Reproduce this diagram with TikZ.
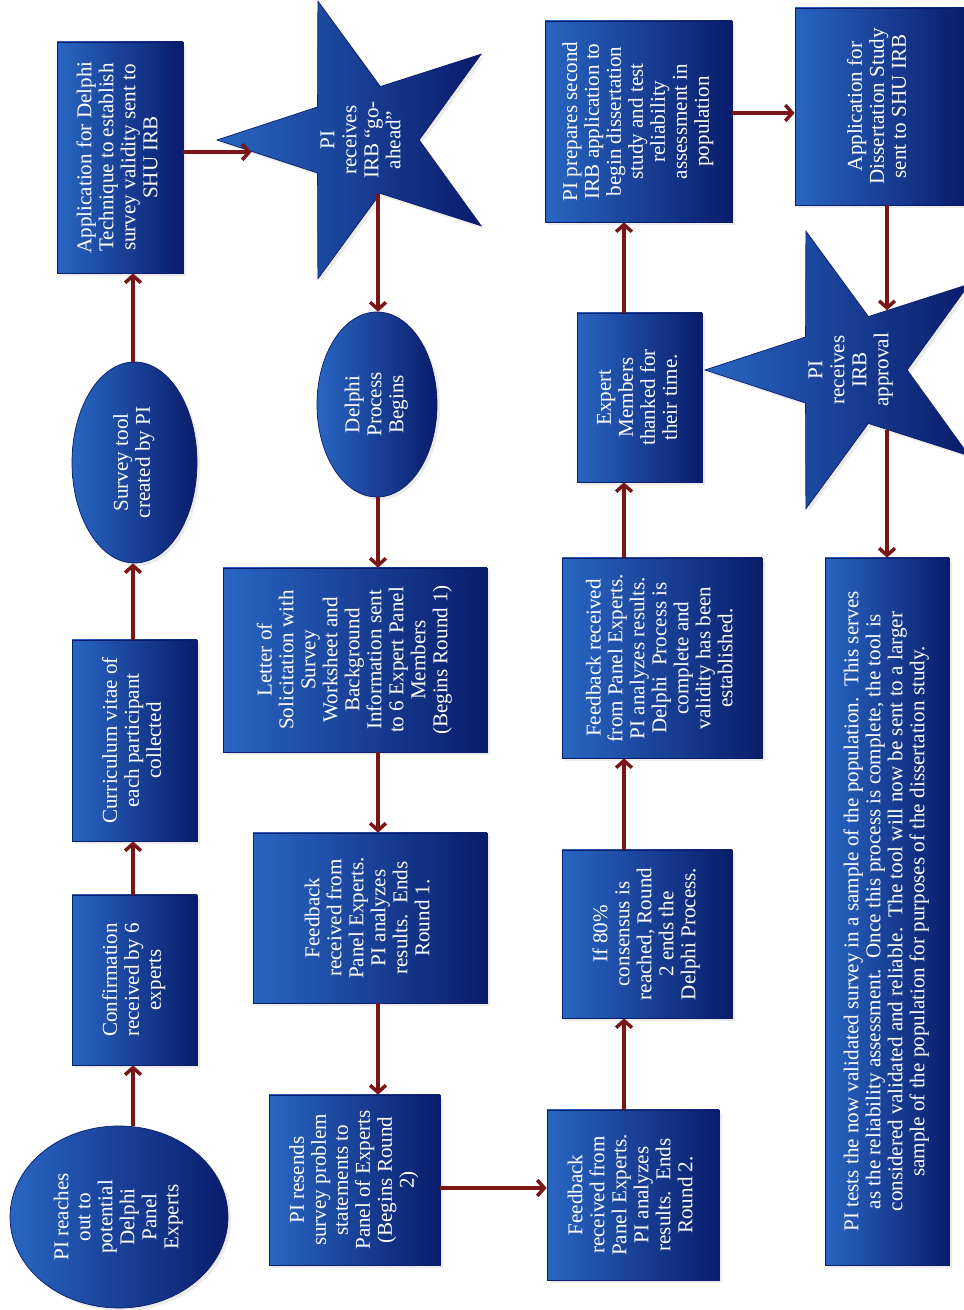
\documentclass[tikz,border=0pt]{standalone}
\usepackage{fontspec}
\setmainfont{Liberation Serif}
\usepackage{tikz}
\usetikzlibrary{arrows.meta, positioning, shapes.geometric, shadows}
\definecolor{boxlight}{RGB}{40,102,194}
\definecolor{boxdark}{RGB}{10,28,108}
\definecolor{arrowred}{RGB}{122,22,22}
\newcommand{\vtext}[1]{\rotatebox{90}{\begin{tabular}{@{}c@{}}#1\end{tabular}}}
% star text takes no room, so the star keeps its own size
\newcommand{\startext}[1]{\smash{\makebox[0pt]{\raisebox{-0.5\height}{\vtext{#1}}}}}
\tikzset{%
	flowbox/.style={
		rectangle,
		draw=boxdark,
		left color=boxlight,
		right color=boxdark,
		text=white,
		inner sep=0pt,
		font=\fontsize{12}{12.5}\selectfont,
		drop shadow={opacity=0.15, shadow xshift=0.06cm, shadow yshift=-0.06cm}
	},
	flowoval/.style={flowbox, ellipse},
	flowstar/.style={
		flowbox, star, star points=5, star point ratio=2.6,
		shape border rotate=90, minimum size=5.84cm
	},
	flow/.style={draw=arrowred, line width=2pt, -{Straight Barb[length=4pt,width=9pt]}},
}
\begin{document}
\begin{tikzpicture}
			\useasboundingbox (0,0) rectangle (19.28,26.2);
			\fill[white] (0,0) rectangle (19.28,26.2);
			
			% arrow lanes
			\coordinate (lane1) at (2.66,0);
			\coordinate (lane2) at (7.56,0);
			\coordinate (lane3) at (12.48,0);
			\coordinate (lane4) at (17.74,0);
			\coordinate (rowA) at (0,23.16);
			\coordinate (rowB) at (0,23.94);
			\coordinate (rowC) at (0,2.44);
			
			% first column
			\node[flowoval, minimum width=4.36cm, minimum height=3.64cm] (reach) at (2.38,1.86)
				{\vtext{PI reaches\\out to\\potential\\Delphi\\Panel\\Experts}};
			\node[flowbox, minimum width=2.50cm, minimum height=3.40cm] (confirm) at (2.69,6.60)
				{\vtext{Confirmation\\received by 6\\experts}};
			\node[flowbox, minimum width=2.50cm, minimum height=4.02cm] (cv) at (2.69,11.39)
				{\vtext{Curriculum vitae of\\each participant\\collected}};
			\node[flowoval, minimum width=2.50cm, minimum height=4.02cm] (survey) at (2.69,16.95)
				{\vtext{Survey tool\\created by PI}};
			\node[flowbox, minimum width=2.52cm, minimum height=4.62cm] (appdelphi) at (2.40,23.05)
				{\vtext{Application for Delphi\\Technique to establish\\survey validity sent to\\SHU IRB}};
			
			% second column
			\node[flowstar] (goahead) at (7.26,23.40)
				{\startext{PI\\receives\\IRB “go-\\ahead”}};
			\node[flowoval, minimum width=2.40cm, minimum height=3.70cm] (delphi) at (7.54,18.11)
				{\vtext{Delphi\\Process\\Begins}};
			\node[flowbox, minimum width=5.28cm, minimum height=3.68cm] (letter) at (7.10,13.00)
				{\vtext{Letter of\\Solicitation with\\Survey\\Worksheet and\\Background\\Information sent\\to 6 Expert Panel\\Members\\(Begins Round 1)}};
			\node[flowbox, minimum width=4.68cm, minimum height=3.40cm] (fbone) at (7.40,7.84)
				{\vtext{Feedback\\received from\\Panel Experts.\\PI analyzes\\results.\ \ Ends\\Round 1.}};
			\node[flowbox, minimum width=3.42cm, minimum height=3.40cm] (resend) at (7.09,2.60)
				{\vtext{PI resends\\survey problem\\statements to\\Panel of Experts\\(Begins Round\\2)}};
			
			% third column
			\node[flowbox, minimum width=3.44cm, minimum height=3.40cm] (fbtwo) at (12.66,2.30)
				{\vtext{Feedback\\received from\\Panel Experts.\\PI analyzes\\results.\ \ Ends\\Round 2.}};
			\node[flowbox, minimum width=3.40cm, minimum height=3.36cm] (consensus) at (12.94,7.52)
				{\vtext{If 80\%\\consensus is\\reached, Round\\2 ends the\\Delphi Process.}};
			\node[flowbox, minimum width=4.00cm, minimum height=4.00cm] (fbdone) at (13.24,13.04)
				{\vtext{Feedback received\\from Panel Experts.\\PI analyzes results.\\Delphi\ \ Process is\\complete and\\validity has been\\established.}};
			\node[flowbox, minimum width=2.50cm, minimum height=3.38cm] (thanks) at (12.79,18.25)
				{\vtext{Expert\\Members\\thanked for\\their time.}};
			\node[flowbox, minimum width=3.74cm, minimum height=4.02cm] (prepare) at (12.77,23.77)
				{\vtext{PI prepares second\\IRB application to\\begin dissertation\\study and test\\reliability\\assessment in\\population}};
			
			% fourth column
			\node[flowbox, minimum width=3.38cm, minimum height=3.94cm] (appdiss) at (17.59,24.07)
				{\vtext{Application for\\Dissertation Study\\sent to SHU IRB}};
			\node[flowstar] (approval) at (17.02,18.80)
				{\startext{PI\\receives\\IRB\\approval}};
			\node[flowbox, minimum width=2.48cm, minimum height=14.14cm] (final) at (17.74,7.97)
				{\vtext{PI tests the now validated survey in a sample of the population.\ \ This serves\\as the reliability assessment.\ \ Once this process is complete, the tool is\\considered validated and reliable.\ \ The tool will now be sent to a larger\\sample of the population for purposes of the dissertation study.}};
			
			% Draw the arrows
			\draw[flow] (reach.north -| lane1) -- (confirm.south -| lane1);
			\draw[flow] (confirm.north -| lane1) -- (cv.south -| lane1);
			\draw[flow] (cv.north -| lane1) -- (survey.south -| lane1);
			\draw[flow] (survey.north -| lane1) -- (appdelphi.south -| lane1);
			\draw[flow] (appdelphi.east |- rowA) -- (rowA -| goahead.186);
			\draw[flow] (lane2 |- goahead.288) -- (delphi.north -| lane2);
			\draw[flow] (delphi.south -| lane2) -- (letter.north -| lane2);
			\draw[flow] (letter.south -| lane2) -- (fbone.north -| lane2);
			\draw[flow] (fbone.south -| lane2) -- (resend.north -| lane2);
			\draw[flow] (resend.east |- rowC) -- (fbtwo.west |- rowC);
			\draw[flow] (fbtwo.north -| lane3) -- (consensus.south -| lane3);
			\draw[flow] (consensus.north -| lane3) -- (fbdone.south -| lane3);
			\draw[flow] (fbdone.north -| lane3) -- (thanks.south -| lane3);
			\draw[flow] (thanks.north -| lane3) -- (prepare.south -| lane3);
			\draw[flow] (prepare.east |- rowB) -- (appdiss.west |- rowB);
			\draw[flow] (appdiss.south -| lane4) -- (lane4 |- approval.59);
			\draw[flow] (lane4 |- approval.301) -- (final.north -| lane4);

		\end{tikzpicture}
\end{document}
